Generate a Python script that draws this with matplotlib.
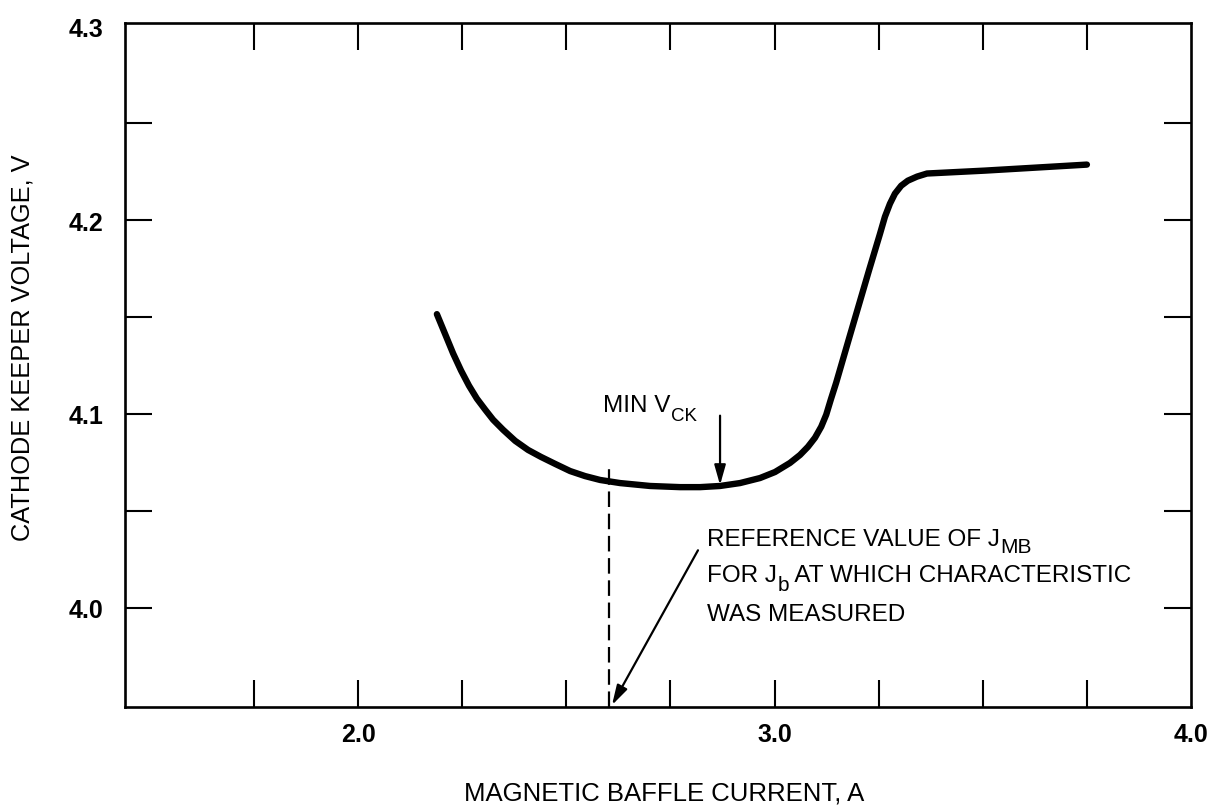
import matplotlib
matplotlib.use("Agg")
import matplotlib.pyplot as plt
from matplotlib.ticker import FixedLocator, FixedFormatter

plt.rcParams['font.family'] = ['Liberation Sans', 'DejaVu Sans']

# ---- data ----
current_a = [2.189, 2.209, 2.228, 2.247, 2.266, 2.285, 2.305, 2.324, 2.348, 2.377,
             2.408, 2.439, 2.473, 2.509, 2.545, 2.581, 2.629, 2.701, 2.773, 2.821,
             2.869, 2.917, 2.965, 3.001, 3.037, 3.061, 3.080, 3.097, 3.112, 3.124,
             3.135, 3.148, 3.181, 3.227, 3.253, 3.265, 3.277, 3.289, 3.304, 3.320,
             3.342, 3.366, 3.505, 3.750]
keeper_v = [4.1515, 4.1411, 4.1312, 4.1224, 4.1146, 4.1079, 4.1022, 4.0970, 4.0918, 4.0861,
            4.0814, 4.0778, 4.0742, 4.0705, 4.0679, 4.0659, 4.0643, 4.0628, 4.0622, 4.0622,
            4.0628, 4.0643, 4.0669, 4.0700, 4.0747, 4.0788, 4.0830, 4.0877, 4.0934, 4.0996,
            4.1074, 4.1162, 4.1406, 4.1743, 4.1929, 4.2018, 4.2085, 4.2137, 4.2178, 4.2204,
            4.2225, 4.2241, 4.2256, 4.2287]

x_ticks = [1.75, 2.0, 2.25, 2.5, 2.75, 3.0, 3.25, 3.5, 3.75, 4.0]
x_tick_labels = ["", "2.0", "", "", "", "3.0", "", "", "", "4.0"]
y_ticks = [4.0, 4.05, 4.1, 4.15, 4.2, 4.25, 4.3]
y_tick_labels = ["4.0", "", "4.1", "", "4.2", "", "4.3"]

reference_jmb = 2.602          # dashed reference line
min_vck_x = 2.869              # MIN V_CK arrow position
min_vck_y = 4.0633

x_label = "MAGNETIC BAFFLE CURRENT, A"
y_label = "CATHODE KEEPER VOLTAGE, V"

# ---- figure ----
W, H = 1212, 812
fig = plt.figure(figsize=(W / 100, H / 100), dpi=100)
ax = fig.add_axes([125 / W, 1 - 708 / H, (1191 - 125) / W, (708 - 24) / H])

ax.set_xlim(1.44, 4.0)
ax.set_ylim(3.9487, 4.3018)

ax.plot(current_a, keeper_v, color='black', lw=4.6, solid_capstyle='round',
        solid_joinstyle='round')

# dashed reference line
ax.plot([reference_jmb, reference_jmb], [3.9487, 4.0726], color='black', lw=1.6,
        dashes=(7, 3))

# spines and ticks
for s in ax.spines.values():
    s.set_linewidth(1.9)
ax.xaxis.set_major_locator(FixedLocator(x_ticks))
ax.xaxis.set_major_formatter(FixedFormatter(x_tick_labels))
ax.yaxis.set_major_locator(FixedLocator(y_ticks))
ax.yaxis.set_major_formatter(FixedFormatter(y_tick_labels))
ax.tick_params(axis='both', which='major', direction='in', length=19.5, width=1.5,
               top=True, right=True, labelsize=18)
ax.tick_params(axis='x', pad=11)
ax.tick_params(axis='y', pad=15.5)
for lab in ax.get_xticklabels() + ax.get_yticklabels():
    lab.set_fontweight('bold')
# hide the 4.3 and 4.0 tick marks lying on the frame
for t in ax.yaxis.get_major_ticks()[-1:]:
    t.tick1line.set_visible(False)
    t.tick2line.set_visible(False)
for t in ax.xaxis.get_major_ticks()[-1:]:
    t.tick1line.set_visible(False)
    t.tick2line.set_visible(False)

# axis labels
fig.text(664 / W, 1 - 794 / H, x_label, ha='center', va='center', fontsize=18.5)
fig.text(23 / W, 1 - 348 / H, y_label, ha='center', va='center', fontsize=18.3,
         rotation=90)

FS = 17.5
SUB = 15.0


def text_with_sub(x, y, main, sub, rest=None, sub_size=SUB, drop=-5.5):
    t = ax.text(x, y, main, fontsize=FS, ha='left', va='baseline')
    s = ax.annotate(sub, xy=(1, y), xycoords=(t, 'data'), xytext=(0.5, drop),
                    textcoords='offset points', fontsize=sub_size, ha='left',
                    va='baseline')
    if rest:
        ax.annotate(rest, xy=(1, y), xycoords=(s, 'data'), xytext=(0, 0),
                    textcoords='offset points', fontsize=FS, ha='left',
                    va='baseline')


# annotations
text_with_sub(2.588, 4.1017, "MIN V", "CK", sub_size=13.5, drop=-7)
ax.annotate("", xy=(min_vck_x, min_vck_y), xytext=(min_vck_x, 4.0991),
            arrowprops=dict(arrowstyle='-|>,head_length=0.6,head_width=0.17',
                            mutation_scale=20, lw=1.6, color='black',
                            shrinkA=0, shrinkB=0))

text_with_sub(2.838, 4.0322, "REFERENCE VALUE OF J", "MB", drop=-5)
text_with_sub(2.838, 4.0135, "FOR J", "b", " AT WHICH CHARACTERISTIC", drop=-6)
ax.text(2.838, 3.9938, "WAS MEASURED", fontsize=FS, ha='left', va='baseline')
ax.annotate("", xy=(2.6095, 3.9497), xytext=(2.816, 4.0296),
            arrowprops=dict(arrowstyle='-|>,head_length=0.6,head_width=0.17',
                            mutation_scale=20, lw=1.6, color='black',
                            shrinkA=0, shrinkB=0))

fig.savefig("out.png", dpi=100)
